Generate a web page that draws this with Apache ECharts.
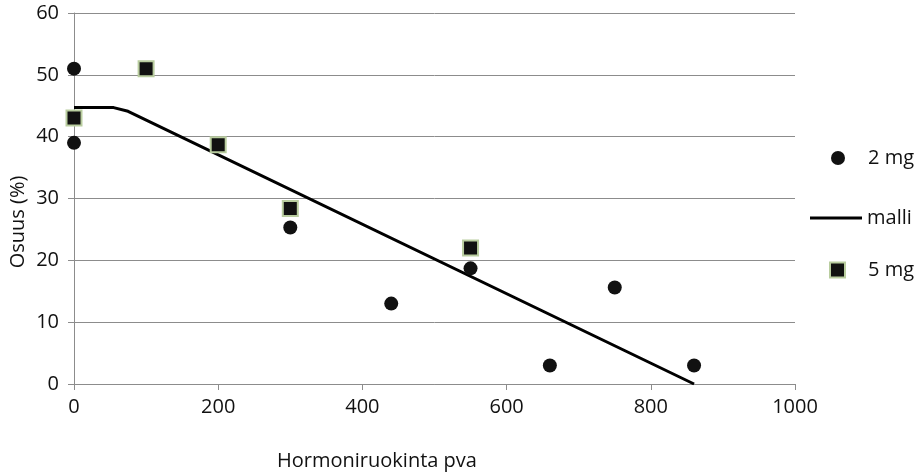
<!DOCTYPE html>
<html>
<head>
<meta charset="utf-8">
<script src="https://cdn.jsdelivr.net/npm/echarts@6/dist/echarts.min.js"></script>
<style>
  html, body { margin: 0; padding: 0; background: #fff; }
  #chart { width: 920px; height: 476px; }
</style>
</head>
<body>
<div id="chart"></div>
<script>
// Observations: feeding days vs share (%)
const dose2mgX = [0, 0, 300, 440, 550, 660, 750, 860];
const dose2mgY = [51, 39, 25.3, 13, 18.7, 3, 15.6, 3];
const dose5mgX = [0, 100, 200, 300, 550];
const dose5mgY = [43, 51, 38.7, 28.4, 22];
// Model curve
const modelX = [0, 55, 75, 860];
const modelY = [44.7, 44.7, 44.1, 0];

const seriesNames = ['2 mg', 'malli', '5 mg'];
const xTitle = 'Hormoniruokinta pva';
const yTitle = 'Osuus (%)';

const zip = (xs, ys) => xs.map((x, i) => [x, ys[i]]);

const FONT = '"Open Sans", "Noto Sans", sans-serif';
const FS = 20;
const TEXT = '#111';
const AXIS_GRAY = '#8c8c8c';
const MARK = '#111';

// one legend block per series so each icon keeps its own size;
// padLeft pushes the label so all labels line up in one column
function legendBlock(name, icon, left, top, w, h, padLeft) {
  return {
    orient: 'vertical', left: left, top: top, padding: 0,
    itemWidth: w, itemHeight: h, icon: icon,
    textStyle: { color: TEXT, fontSize: FS, fontFamily: FONT, padding: [0, 0, 0, padLeft] },
    data: [name]
  };
}

const chart = echarts.init(document.getElementById('chart'), null, { renderer: 'canvas' });
chart.setOption({
  animation: false,
  backgroundColor: '#fff',
  grid: { left: 74, right: 125, top: 13, bottom: 92 },
  xAxis: {
    type: 'value', min: 0, max: 1000, interval: 200,
    axisLine: { show: true, lineStyle: { color: AXIS_GRAY, width: 1 } },
    axisTick: { show: true, length: 6, lineStyle: { color: AXIS_GRAY } },
    splitLine: { show: false },
    axisLabel: { color: TEXT, fontSize: FS, fontFamily: FONT, margin: 13,
                 formatter: v => String(v) }
  },
  yAxis: {
    type: 'value', min: 0, max: 60, interval: 10,
    axisLine: { show: true, lineStyle: { color: AXIS_GRAY, width: 1 } },
    axisTick: { show: true, length: 6, lineStyle: { color: AXIS_GRAY } },
    splitLine: { show: true, lineStyle: { color: AXIS_GRAY, width: 1 } },
    axisLabel: { color: TEXT, fontSize: FS, fontFamily: FONT, margin: 15 }
  },
  legend: [
    legendBlock(seriesNames[0], 'circle', 831, 148, 14, 14, 18),
    legendBlock(seriesNames[1], 'rect', 810, 208, 52, 3, 0),
    legendBlock(seriesNames[2], 'rect', 829, 260, 15, 15, 18)
  ],
  graphic: [
    {
      type: 'text', x: 377, y: 461,
      style: { text: xTitle, fill: TEXT, fontSize: FS, fontFamily: FONT,
               align: 'center', verticalAlign: 'middle' }
    },
    {
      type: 'text', x: 18, y: 222, rotation: Math.PI / 2,
      style: { text: yTitle, fill: TEXT, fontSize: FS, fontFamily: FONT,
               align: 'center', verticalAlign: 'middle' }
    }
  ],
  series: [
    {
      name: seriesNames[0], type: 'scatter', data: zip(dose2mgX, dose2mgY),
      symbol: 'circle', symbolSize: 14, z: 3,
      itemStyle: { color: MARK, opacity: 1 }
    },
    {
      name: seriesNames[1], type: 'line', data: zip(modelX, modelY),
      showSymbol: false, symbol: 'none', z: 2,
      lineStyle: { color: '#000', width: 3 },
      itemStyle: { color: '#000' }
    },
    {
      name: seriesNames[2], type: 'scatter', data: zip(dose5mgX, dose5mgY),
      symbol: 'rect', symbolSize: 15, z: 4,
      itemStyle: { color: MARK, opacity: 1, borderColor: '#b9cd9f', borderWidth: 2 }
    }
  ]
});
</script>
</body>
</html>
